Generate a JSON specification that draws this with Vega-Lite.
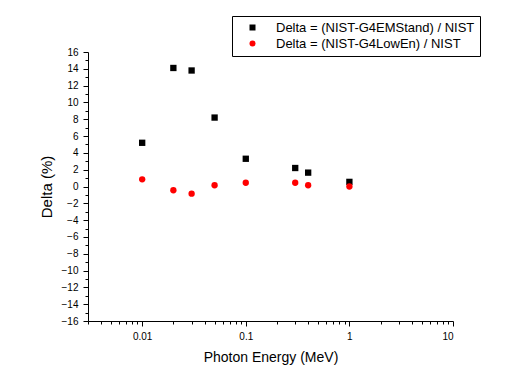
{
  "$schema": "https://vega.github.io/schema/vega-lite/v6.json",
  "autosize": {"type": "none"},
  "padding": {"left": 88, "top": 52, "right": 78, "bottom": 62},
  "width": 365,
  "height": 269,
  "background": "white",
  "config": {
    "view": {"stroke": null},
    "font": "Liberation Sans",
    "axis": {"grid": false, "domainColor": "black", "tickColor": "black", "labelColor": "black", "titleColor": "black", "labelFont": "Liberation Sans", "titleFont": "Liberation Sans", "titleFontWeight": "normal"}
  },
  "data": {
    "values": [
      {"energy": 0.01, "delta": 5.2, "series": "Delta = (NIST-G4EMStand) / NIST"},
      {"energy": 0.02, "delta": 14.1, "series": "Delta = (NIST-G4EMStand) / NIST"},
      {"energy": 0.03, "delta": 13.8, "series": "Delta = (NIST-G4EMStand) / NIST"},
      {"energy": 0.05, "delta": 8.2, "series": "Delta = (NIST-G4EMStand) / NIST"},
      {"energy": 0.1, "delta": 3.3, "series": "Delta = (NIST-G4EMStand) / NIST"},
      {"energy": 0.3, "delta": 2.2, "series": "Delta = (NIST-G4EMStand) / NIST"},
      {"energy": 0.4, "delta": 1.65, "series": "Delta = (NIST-G4EMStand) / NIST"},
      {"energy": 1.0, "delta": 0.55, "series": "Delta = (NIST-G4EMStand) / NIST"},
      {"energy": 0.01, "delta": 0.85, "series": "Delta = (NIST-G4LowEn) / NIST"},
      {"energy": 0.02, "delta": -0.45, "series": "Delta = (NIST-G4LowEn) / NIST"},
      {"energy": 0.03, "delta": -0.85, "series": "Delta = (NIST-G4LowEn) / NIST"},
      {"energy": 0.05, "delta": 0.15, "series": "Delta = (NIST-G4LowEn) / NIST"},
      {"energy": 0.1, "delta": 0.45, "series": "Delta = (NIST-G4LowEn) / NIST"},
      {"energy": 0.3, "delta": 0.45, "series": "Delta = (NIST-G4LowEn) / NIST"},
      {"energy": 0.4, "delta": 0.15, "series": "Delta = (NIST-G4LowEn) / NIST"},
      {"energy": 1.0, "delta": 0.0, "series": "Delta = (NIST-G4LowEn) / NIST"}
    ]
  },
  "layer": [
    {
      "mark": {"type": "point", "opacity": 0},
      "encoding": {
        "x": {"field": "energy", "type": "quantitative", "scale": {"type": "log", "domain": [0.003, 10], "nice": false},
          "axis": {"orient": "bottom", "values": [0.003, 0.004, 0.005, 0.006, 0.007, 0.008, 0.009, 0.02, 0.03, 0.04, 0.05, 0.06, 0.07, 0.08, 0.09, 0.2, 0.3, 0.4, 0.5, 0.6, 0.7, 0.8, 0.9, 2, 3, 4, 5, 6, 7, 8, 9], "labels": false, "domain": false, "tickSize": 3, "title": null}},
        "y": {"field": "delta", "type": "quantitative", "scale": {"domain": [-16, 16], "nice": false},
          "axis": {"orient": "left", "values": [-15, -13, -11, -9, -7, -5, -3, -1, 1, 3, 5, 7, 9, 11, 13, 15], "labels": false, "domain": false, "tickSize": 3, "title": null}}
      }
    },
    {
      "mark": {"type": "point", "filled": true, "size": 40, "opacity": 1},
      "encoding": {
        "x": {"field": "energy", "type": "quantitative", "scale": {"type": "log", "domain": [0.003, 10], "nice": false},
          "axis": {"orient": "bottom", "values": [0.01, 0.1, 1, 10], "format": "~g", "tickSize": 5, "labelFontSize": 10, "labelPadding": 5, "title": "Photon Energy (MeV)", "titleFontSize": 14, "titlePadding": 9}},
        "y": {"field": "delta", "type": "quantitative", "scale": {"domain": [-16, 16], "nice": false},
          "axis": {"orient": "left", "values": [-16, -14, -12, -10, -8, -6, -4, -2, 0, 2, 4, 6, 8, 10, 12, 14, 16], "tickSize": 5, "labelFontSize": 10, "labelPadding": 5, "title": "Delta (%)", "titleFontSize": 15, "titlePadding": 7}},
        "color": {"field": "series", "type": "nominal", "scale": {"domain": ["Delta = (NIST-G4EMStand) / NIST", "Delta = (NIST-G4LowEn) / NIST"], "range": ["#000000", "#ff0000"]},
          "legend": {"title": null, "orient": "none", "legendX": 144, "legendY": -36, "strokeColor": "black", "fillColor": "white", "padding": 5, "symbolOffset": 9, "symbolSize": 36, "labelOffset": 17, "labelFontSize": 13, "labelFont": "Liberation Sans", "labelColor": "black", "rowPadding": 2, "labelLimit": 400, "symbolStrokeWidth": 0, "labelExpr": "datum.label + '\u00a0\u00a0\u00a0\u00a0\u00a0\u00a0\u00a0\u00a0'"}},
        "shape": {"field": "series", "type": "nominal", "scale": {"domain": ["Delta = (NIST-G4EMStand) / NIST", "Delta = (NIST-G4LowEn) / NIST"], "range": ["square", "circle"]}}
      }
    }
  ],
  "resolve": {"axis": {"x": "independent", "y": "independent"}}
}
